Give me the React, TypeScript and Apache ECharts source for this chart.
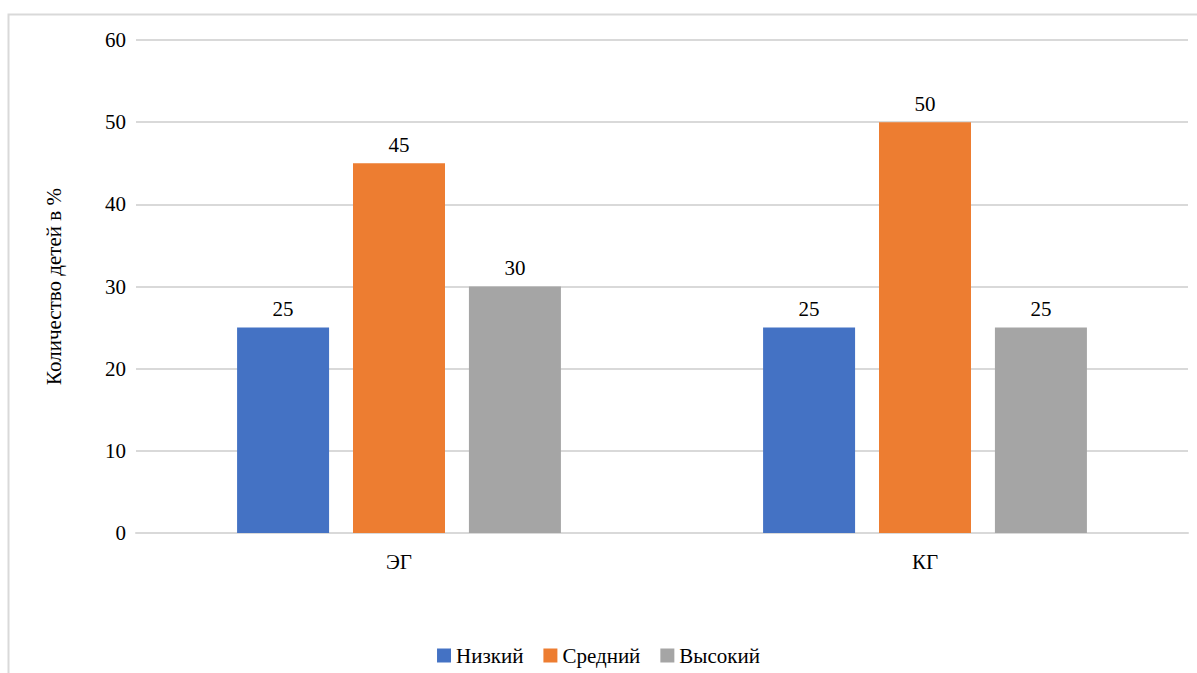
import React, { useEffect, useRef } from "react";
import * as echarts from "echarts";

const categories = ["ЭГ", "КГ"];
const seriesNames = ["Низкий", "Средний", "Высокий"];
const lowValues = [25, 25];
const midValues = [45, 50];
const highValues = [30, 25];
const colors = ["#4472C4", "#ED7D31", "#A5A5A5"];
const yTicks = { min: 0, max: 60, interval: 10 };

const FONT = "Times New Roman";

export default function App() {
  const ref = useRef<HTMLDivElement>(null);

  useEffect(() => {
    if (!ref.current) return;
    const chart = echarts.init(ref.current, null, { renderer: "svg" });
    const values = [lowValues, midValues, highValues];
    chart.setOption({
      animation: false,
      textStyle: { fontFamily: FONT, fontSize: 21 },
      graphic: [
        {
          type: "rect",
          shape: { x: 8.5, y: 14.5, width: 1220, height: 700 },
          style: { fill: "none", stroke: "#d9d9d9", lineWidth: 2 },
          silent: true,
        },
      ],
      legend: {
        bottom: 2,
        left: "center",
        itemWidth: 14,
        itemHeight: 14,
        itemGap: 20,
        icon: "rect",
        textStyle: { fontFamily: "serif", fontSize: 21, color: "#000" },
        data: seriesNames,
      },
      grid: { left: 136, right: 9, top: 40, bottom: 140 },
      xAxis: {
        type: "category",
        data: categories,
        axisLine: { lineStyle: { color: "#d9d9d9", width: 2 } },
        axisTick: { show: false },
        axisLabel: { fontFamily: FONT, fontSize: 21, color: "#000", margin: 18 },
      },
      yAxis: {
        type: "value",
        min: yTicks.min,
        max: yTicks.max,
        interval: yTicks.interval,
        name: "Количество детей в %",
        nameLocation: "middle",
        nameGap: 72,
        nameRotate: 90,
        nameTextStyle: { fontFamily: FONT, fontSize: 21, color: "#000" },
        axisLine: { show: false },
        axisTick: { show: false },
        axisLabel: { fontFamily: FONT, fontSize: 21, color: "#000", margin: 10 },
        splitLine: { lineStyle: { color: "#d9d9d9", width: 2 } },
      },
      series: seriesNames.map((name, i) => ({
        name,
        type: "bar",
        data: values[i],
        barWidth: 92,
        barGap: "26%",
        itemStyle: { color: colors[i] },
        label: {
          show: true,
          position: "top",
          distance: 8,
          fontFamily: FONT,
          fontSize: 21,
          color: "#000",
        },
      })),
    });
    return () => chart.dispose();
  }, []);

  return (
    <div
      ref={ref}
      style={{ position: "absolute", left: 0, top: 0, width: 1197, height: 673 }}
    />
  );
}
